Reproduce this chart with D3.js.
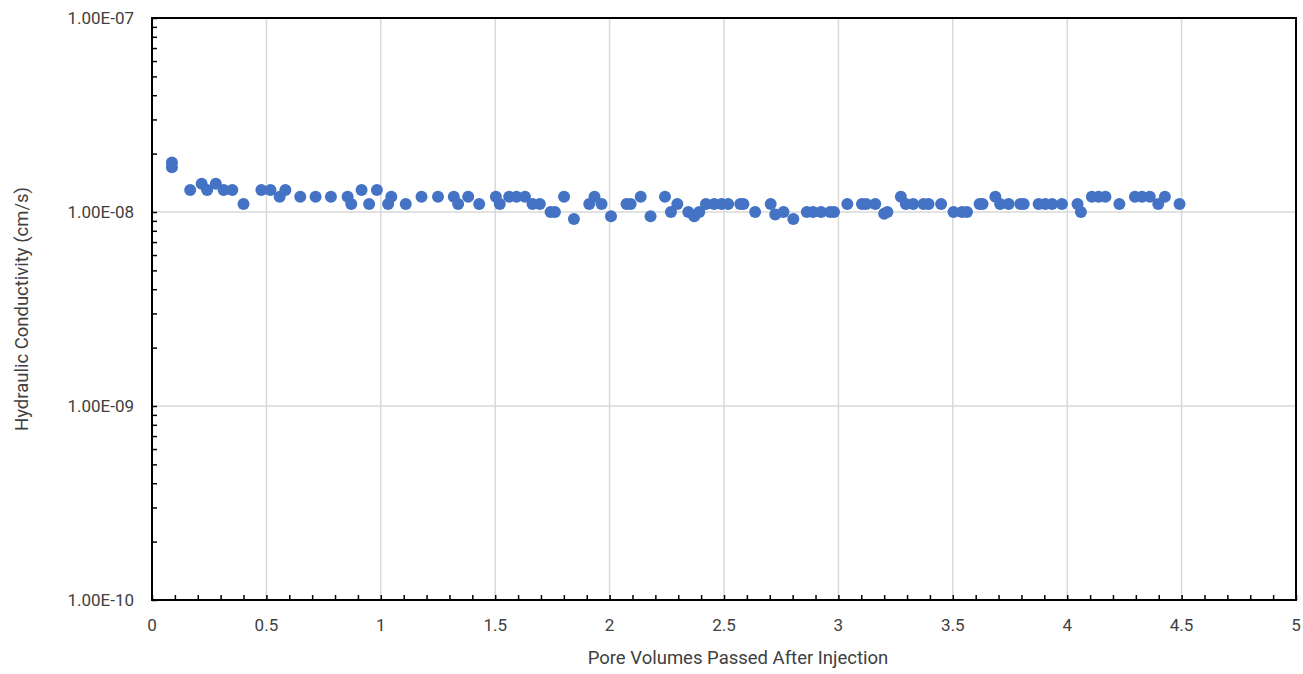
<!DOCTYPE html>
<html>
<head>
<meta charset="utf-8">
<script src="https://cdn.jsdelivr.net/npm/d3@7"></script>
<style>
  body { margin: 0; background: #fff; }
  text { font-family: Roboto, "Noto Sans", sans-serif; fill: #404040; }
</style>
</head>
<body>
<svg id="chart" width="1303" height="674"></svg>
<script>
// pore volumes passed
var pv = [0.087, 0.087, 0.167, 0.217, 0.241, 0.279, 0.313, 0.351, 0.40, 0.478,
  0.518, 0.558, 0.583, 0.648, 0.715, 0.782, 0.855, 0.871, 0.916, 0.949,
  0.983, 1.032, 1.046, 1.109, 1.178, 1.250, 1.319, 1.338, 1.382, 1.430,
  1.503, 1.520, 1.561, 1.593, 1.630, 1.663, 1.695, 1.742, 1.761, 1.801,
  1.844, 1.911, 1.934, 1.965, 2.006, 2.074, 2.092, 2.136, 2.179, 2.242,
  2.268, 2.296, 2.344, 2.370, 2.392, 2.421, 2.457, 2.489, 2.518, 2.571,
  2.585, 2.636, 2.704, 2.724, 2.760, 2.803, 2.862, 2.889, 2.924, 2.964,
  2.981, 3.039, 3.103, 3.121, 3.161, 3.200, 3.214, 3.273, 3.295, 3.327,
  3.372, 3.394, 3.449, 3.503, 3.540, 3.562, 3.617, 3.630, 3.686, 3.707,
  3.744, 3.795, 3.810, 3.875, 3.904, 3.934, 3.977, 4.045, 4.060, 4.108,
  4.137, 4.167, 4.228, 4.296, 4.327, 4.361, 4.398, 4.427, 4.491]

// hydraulic conductivity, cm/s
var k = [1.8e-8, 1.7e-8, 1.3e-8, 1.4e-8, 1.3e-8, 1.4e-8, 1.3e-8, 1.3e-8, 1.1e-8, 1.3e-8,
  1.3e-8, 1.2e-8, 1.3e-8, 1.2e-8, 1.2e-8, 1.2e-8, 1.2e-8, 1.1e-8, 1.3e-8, 1.1e-8,
  1.3e-8, 1.1e-8, 1.2e-8, 1.1e-8, 1.2e-8, 1.2e-8, 1.2e-8, 1.1e-8, 1.2e-8, 1.1e-8,
  1.2e-8, 1.1e-8, 1.2e-8, 1.2e-8, 1.2e-8, 1.1e-8, 1.1e-8, 1.0e-8, 1.0e-8, 1.2e-8,
  9.2e-9, 1.1e-8, 1.2e-8, 1.1e-8, 9.5e-9, 1.1e-8, 1.1e-8, 1.2e-8, 9.5e-9, 1.2e-8,
  1.0e-8, 1.1e-8, 1.0e-8, 9.5e-9, 1.0e-8, 1.1e-8, 1.1e-8, 1.1e-8, 1.1e-8, 1.1e-8,
  1.1e-8, 1.0e-8, 1.1e-8, 9.7e-9, 1.0e-8, 9.2e-9, 1.0e-8, 1.0e-8, 1.0e-8, 1.0e-8,
  1.0e-8, 1.1e-8, 1.1e-8, 1.1e-8, 1.1e-8, 9.8e-9, 1.0e-8, 1.2e-8, 1.1e-8, 1.1e-8,
  1.1e-8, 1.1e-8, 1.1e-8, 1.0e-8, 1.0e-8, 1.0e-8, 1.1e-8, 1.1e-8, 1.2e-8, 1.1e-8,
  1.1e-8, 1.1e-8, 1.1e-8, 1.1e-8, 1.1e-8, 1.1e-8, 1.1e-8, 1.1e-8, 1.0e-8, 1.2e-8,
  1.2e-8, 1.2e-8, 1.1e-8, 1.2e-8, 1.2e-8, 1.2e-8, 1.1e-8, 1.2e-8, 1.1e-8]

var xTicks = [0, 0.5, 1, 1.5, 2, 2.5, 3, 3.5, 4, 4.5, 5]
var yTicks = [1e-10, 1e-9, 1e-8, 1e-7]
var yLabels = ["1.00E-10", "1.00E-09", "1.00E-08", "1.00E-07"]

var plotL = 152, plotR = 1296, plotT = 18, plotB = 600

var svg = d3.select('#chart')

var x = d3.scaleLinear().domain([0, 5]).range([plotL, plotR])
var y = d3.scaleLog().domain([1e-10, 1e-7]).range([plotB, plotT])

// gridlines
svg.append('g').selectAll('line')
  .data(xTicks.slice(1))
  .enter().append('line')
  .attr('x1', function(d) { return x(d) }).attr('x2', function(d) { return x(d) })
  .attr('y1', plotT).attr('y2', plotB)
  .style('stroke', '#d9d9d9').style('stroke-width', 1.5)

svg.append('g').selectAll('line')
  .data(yTicks.slice(1))
  .enter().append('line')
  .attr('x1', plotL).attr('x2', plotR)
  .attr('y1', function(d) { return y(d) }).attr('y2', function(d) { return y(d) })
  .style('stroke', '#d9d9d9').style('stroke-width', 1.5)

// minor ticks, pointing inward
var xMinor = d3.range(0, 51).map(function(i) { return i / 10 })
var xAxis = d3.axisBottom(x).tickValues(xMinor).tickSize(-5).tickFormat('')
svg.append('g').attr('transform', 'translate(0,' + plotB + ')').call(xAxis)
  .call(function(g) { g.select('.domain').remove() })
  .selectAll('line').style('stroke', '#000').style('stroke-width', 1.5)

var yMinor = []
yTicks.forEach(function(t) { for (var m = 1; m < 10; m++) if (t * m <= 1e-7) yMinor.push(t * m) })
var yAxis = d3.axisLeft(y).tickValues(yMinor).tickSize(-5).tickFormat('')
svg.append('g').attr('transform', 'translate(' + plotL + ',0)').call(yAxis)
  .call(function(g) { g.select('.domain').remove() })
  .selectAll('line').style('stroke', '#000').style('stroke-width', 1.5)

// frame
svg.append('rect')
  .attr('x', plotL).attr('y', plotT)
  .attr('width', plotR - plotL).attr('height', plotB - plotT)
  .style('fill', 'none').style('stroke', '#000').style('stroke-width', 2)

// tick labels
svg.append('g').selectAll('text')
  .data(xTicks)
  .enter().append('text')
  .attr('x', function(d) { return x(d) })
  .attr('y', 631)
  .style('text-anchor', 'middle').style('font-size', '17px')
  .text(function(d) { return d })

svg.append('g').selectAll('text')
  .data(yTicks)
  .enter().append('text')
  .attr('x', 134)
  .attr('y', function(d) { return y(d) + 6 })
  .style('text-anchor', 'end').style('font-size', '17px')
  .text(function(d, i) { return yLabels[i] })

// axis titles
svg.append('text')
  .attr('x', (plotL + plotR) / 2 + 14).attr('y', 664)
  .style('text-anchor', 'middle').style('font-size', '18.5px')
  .text('Pore Volumes Passed After Injection')

svg.append('text')
  .attr('transform', 'translate(28,' + (plotT + plotB) / 2 + ') rotate(-90)')
  .style('text-anchor', 'middle').style('font-size', '18.5px')
  .text('Hydraulic Conductivity (cm/s)')

// points
svg.append('g').selectAll('circle')
  .data(pv)
  .enter().append('circle')
  .attr('cx', function(d) { return x(d) })
  .attr('cy', function(d, i) { return y(k[i]) })
  .attr('r', 6)
  .style('fill', '#4472c4')
</script>
</body>
</html>
